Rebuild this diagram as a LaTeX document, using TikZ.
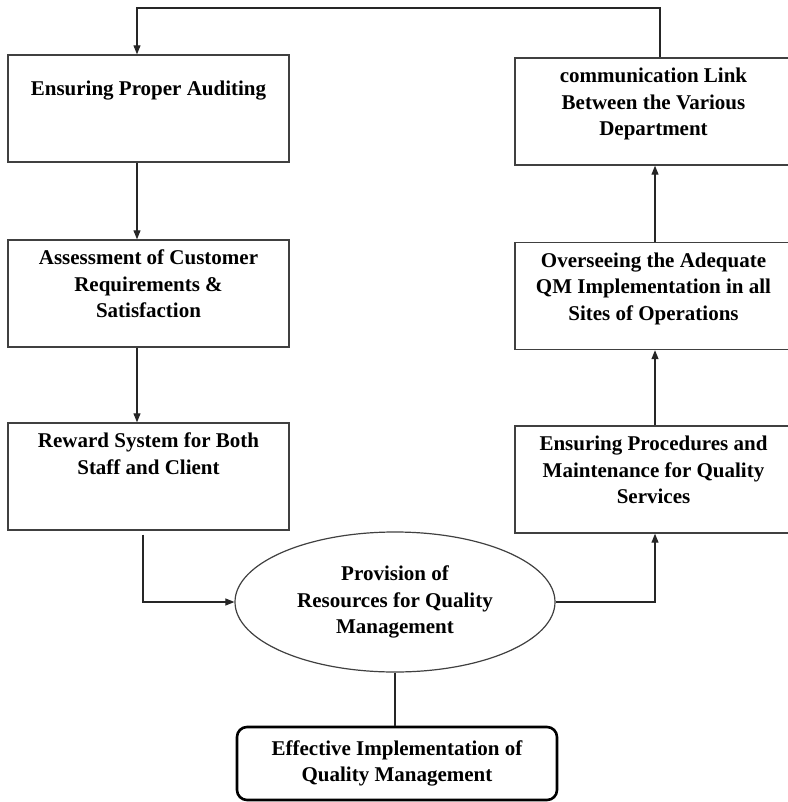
\documentclass[tikz,border=0pt]{standalone}
\usepackage{fontspec}
\setmainfont{Liberation Serif}
\usepackage{tikz}
\usetikzlibrary{arrows.meta,positioning,shapes.geometric}

% text of a stage box, set at the top of the box
\newcommand{\stagetext}[2]{\parbox[c][43.5pt][t]{#1}{\centering #2}}

\begin{document}
\begin{tikzpicture}[
    x = 0.5pt, y = -0.5pt, % one unit = one pixel of the figure
    stage/.style={
        rectangle, % shape
        draw = black!75, line width = 0.7pt, %border
        inner xsep = 2pt, inner ysep = 5pt,
        minimum height = 53.5pt,
        font=\fontsize{10.5}{13.3}\selectfont\bfseries %font
      },
    hub/.style={
        ellipse, draw = black!75, line width = 0.6pt,
        minimum width = 160pt, minimum height = 70pt,
        inner sep = 1pt, align = center,
        font=\fontsize{10.5}{13.3}\selectfont\bfseries
      },
    goal/.style={
        rectangle, rounded corners = 5pt,
        draw = black, line width = 1.3pt,
        minimum width = 160pt, minimum height = 36.5pt,
        align = center,
        font=\fontsize{10.5}{12.8}\selectfont\bfseries
      },
    link/.style={draw = black!85, line width = 0.55pt},
    flow/.style={link, -{Triangle[length=4.5pt,width=3.5pt]}}
  ]
  \useasboundingbox (0,0) rectangle (787,802);

  % left column
  \node [stage, minimum width = 140.5pt] (audit) at (148.5,108.5)
    {\stagetext{125pt}{\vspace*{8pt}Ensuring Proper Auditing}};
  \node [stage, minimum width = 140.5pt] (assess) at (148.5,293.5)
    {\stagetext{125pt}{Assessment of Customer\\ Requirements \&\\ Satisfaction}};
  \node [stage, minimum width = 140.5pt] (reward) at (148.5,476.5)
    {\stagetext{125pt}{Reward System for Both\\ Staff and Client}};

  % right column (runs off the right edge)
  \node [stage, minimum width = 138.5pt] (comm) at (653.5,111.5)
    {\stagetext{125pt}{communication Link\\ Between the Various\\ Department}};
  \node [stage, minimum width = 138.5pt] (oversee) at (653.5,296)
    {\stagetext{125pt}{Overseeing the Adequate\\ QM Implementation in all\\ Sites of Operations}};
  \node [stage, minimum width = 138.5pt] (procedure) at (653.5,479.5)
    {\stagetext{125pt}{Ensuring Procedures and\\ Maintenance for Quality\\ Services}};

  \node [hub] (provision) at (395,602) {Provision of\\ Resources for Quality\\ Management};
  \node [goal] (goal) at (397,763.5) {Effective Implementation of\\ Quality Management};

  % connectors
  \coordinate (topleft) at (137,8);
  \coordinate (topright) at (660,8);
  \coordinate (leftbend) at (143,602);
  \coordinate (rightbend) at (655,602);

  \draw [flow] (comm.north -| topright) -- (topright) -- (topleft) -- (audit.north -| topleft);
  \draw [flow] (audit.south -| topleft) -- (assess.north -| topleft);
  \draw [flow] (assess.south -| topleft) -- (reward.north -| topleft);
  \draw [flow, shorten <= 2pt] (reward.south -| leftbend) -- (leftbend) -- (provision.west);
  \draw [flow] (provision.east) -- (rightbend) -- (procedure.south -| rightbend);
  \draw [flow] (procedure.north -| rightbend) -- (oversee.south -| rightbend);
  \draw [flow] (oversee.north -| rightbend) -- (comm.south -| rightbend);
  \draw [link] (provision.south) -- (provision.south |- goal.north);
\end{tikzpicture}
\end{document}
